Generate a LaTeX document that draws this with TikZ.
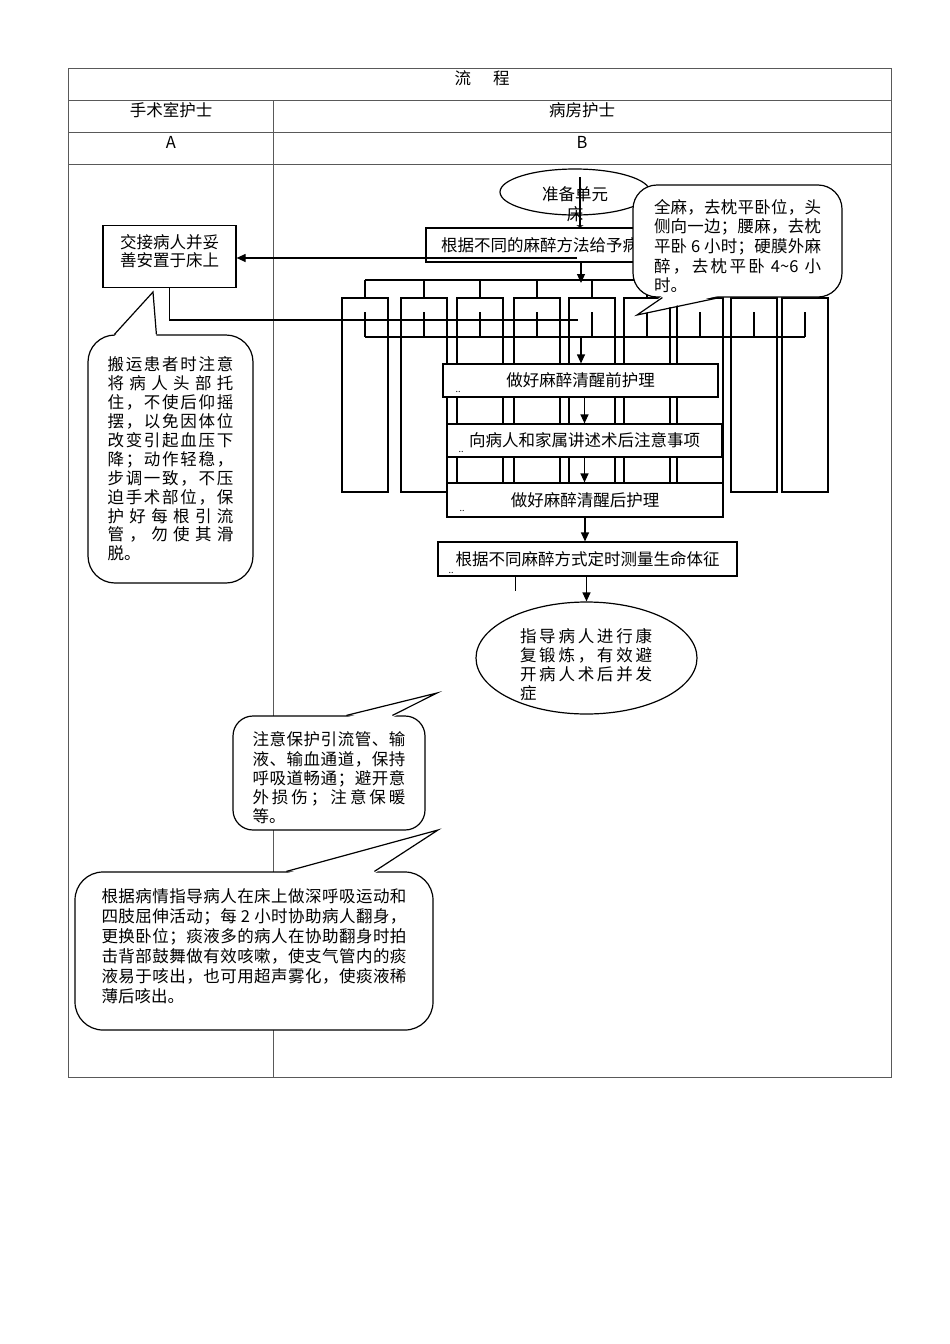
\documentclass[tikz,border=0pt]{standalone}
\usepackage{fontspec}
\setmainfont{Noto Sans CJK SC}
\usepackage{tikz}
\usetikzlibrary{arrows.meta,shapes.geometric}

\newcommand{\spr}[2]{\makebox[#1][s]{\sprA#2\relax}}
\def\sprA#1{#1\sprB}
\def\sprB#1{\ifx\relax#1\else\hfil#1\expandafter\sprB\fi}

\begin{document}
\begin{tikzpicture}[x=1pt, y=-1pt,
  every node/.style={font=\fontsize{16.5}{19.5}\selectfont, inner sep=0pt},
  tbl/.style={draw=black!65, line width=1pt},
  lnk/.style={line width=1.2pt},
  flow/.style={line width=1.2pt, -{Triangle[length=9pt,width=8pt]}},
  box/.style={draw, line width=1.2pt, fill=white},
  bubble/.style={draw, line width=1.2pt, fill=white, rounded corners=#1},
  dots/.style={font=\fontsize{9}{9}\selectfont}]

\useasboundingbox (0,0) rectangle (950,1344);

% table
\draw[tbl] (68,68) rectangle (891,1077);
\foreach \y in {100,132,164} \draw[tbl] (68,\y) -- (891,\y);
\draw[tbl] (273,100) -- (273,1077);
\node (hd) at (482,78) {流\hspace{22pt}程};
\node (ha) at (171,110) {手术室护士};
\node (hb) at (582,110) {病房护士};
\node (la) at (171,142) {A};
\node (lb) at (582,142) {B};

% org chart remains
\foreach \x in {365,424,480,537,592,647,700,754,805} {
  \draw[lnk] (\x-23,298) rectangle (\x+23,492);
  \draw[lnk] (\x,280) -- (\x,298);
  \draw[lnk] (\x,312) -- (\x,337);
}
\draw[lnk] (365,280) -- (805,280);
\draw[lnk] (365,337) -- (805,337);

% column B
\node (ell1) at (575,192) [draw, ellipse, line width=1.2pt, minimum width=150pt, minimum height=46pt] {};
\node (ell1t) at (575,204) [align=center] {准备单元\\床};
\node (rb) at (581,245) [box, minimum width=310pt, minimum height=34pt, text width=280pt, align=left] {根据不同的麻醉方法给予病};
\node (rbd) at (443,259) [dots] {..};
\coordinate (e1) at (580,177);
\draw[lnk, -{Latex[length=2pt,width=8pt]}] (e1) -- (e1 |- rb.north);
\coordinate (bt) at (581,283);
\draw[flow] (rb.south) -- (bt);

% column A
\node (lbox) at (169.5,256.5) [box, minimum width=133pt, minimum height=62pt] {};
\node (lboxt) at ([yshift=5pt]lbox.center) [align=center, font=\fontsize{16.5}{18}\selectfont] {交接病人并妥\\善安置于床上};
\coordinate (j1) at (577,258);
\draw[flow] (j1) -- (j1 -| lbox.east);
\coordinate (j2) at (578,320);
\draw[lnk] (lbox.south) |- (j2);

\node (bx1) at (580.5,380.5) [box, minimum width=275pt, minimum height=33pt] {做好麻醉清醒前护理};
\node (bx1d) at (458,392) [dots] {..};
\node (bx2) at (584.5,440.5) [box, minimum width=275pt, minimum height=33pt] {向病人和家属讲述术后注意事项};
\node (bx2d) at (461,452) [dots] {..};
\node (bx3) at (585,500) [box, minimum width=276pt, minimum height=34pt] {做好麻醉清醒后护理};
\node (bx3d) at (462,511) [dots] {..};
\node (bx4) at (587.5,559) [box, minimum width=299pt, minimum height=34pt] {根据不同麻醉方式定时测量生命体征};
\node (bx4d) at (451,573) [dots] {..};
\node (ell2) at (586.5,658) [draw, ellipse, line width=1.2pt, minimum width=221pt, minimum height=112pt] {};
\node (ell2t) at (586,665) [align=left, font=\fontsize{16.5}{19}\selectfont] {\spr{132pt}{指导病人进行康}\\\spr{132pt}{复锻炼，有效避}\\\spr{132pt}{开病人术后并发}\\症};

\coordinate (bb) at (581,337);
\draw[flow] (bb) -- (bb |- bx1.north);
\draw[flow] (bx1.south -| bx2.north) -- (bx2.north);
\draw[flow] (bx2.south) -- (bx2.south |- bx3.north);
\draw[flow] (bx3.south) -- (bx3.south |- bx4.north);
\draw[flow] (bx4.south -| ell2.north) -- (ell2.north);
\draw[lnk] ([xshift=-72pt]bx4.south) -- ++(0,14);

% callouts
\node (c1) at (737.5,241) [bubble=24pt, minimum width=209pt, minimum height=112pt] {};
\node (c1t) at ([yshift=-5pt]c1.center) [align=left, font=\fontsize{16.5}{19.7}\selectfont]
  {\spr{167pt}{全麻，去枕平卧位，头}\\\spr{167pt}{侧向一边；腰麻，去枕}\\\spr{167pt}{平卧{~6~}小时；硬膜外麻}\\\spr{167pt}{醉，去枕平卧{~4\string~6~}小}\\时。};
\coordinate (c1p) at (637,315);
\fill[white] ([xshift=30pt,yshift=2pt]c1.south west) -- (c1p) -- ([xshift=87pt,yshift=2pt]c1.south west) -- cycle;
\draw[lnk] ([xshift=30pt]c1.south west) -- (c1p) -- ([xshift=87pt]c1.south west);

\node (c0) at (170.5,459) [bubble=27pt, minimum width=165pt, minimum height=248pt, align=left, font=\fontsize{16.5}{18.9}\selectfont]
  {\spr{126pt}{搬运患者时注意}\\\spr{126pt}{将病人头部托}\\\spr{126pt}{住，不使后仰摇}\\\spr{126pt}{摆，以免因体位}\\\spr{126pt}{改变引起血压下}\\\spr{126pt}{降；动作轻稳，}\\\spr{126pt}{步调一致，不压}\\\spr{126pt}{迫手术部位，保}\\\spr{126pt}{护好每根引流}\\\spr{126pt}{管，勿使其滑}\\脱。};
\coordinate (c0p) at (153,292);
\fill[white] ([xshift=27pt,yshift=-2pt]c0.north west) -- (c0p) -- ([xshift=69pt,yshift=-2pt]c0.north west) -- cycle;
\draw[lnk] ([xshift=27pt]c0.north west) -- (c0p) -- ([xshift=69pt]c0.north west);

\node (c2) at (329,773) [bubble=20pt, minimum width=192pt, minimum height=114pt] {};
\node (c2t) at ([yshift=-5pt]c2.center) [align=left, font=\fontsize{16.5}{19.3}\selectfont]
  {\spr{153pt}{注意保护引流管、输}\\\spr{153pt}{液、输血通道，保持}\\\spr{153pt}{呼吸道畅通；避开意}\\\spr{153pt}{外损伤；注意保暖}\\等。};
\coordinate (c2p) at (437,693);
\fill[white] ([xshift=114pt,yshift=-2pt]c2.north west) -- (c2p) -- ([xshift=160pt,yshift=-2pt]c2.north west) -- cycle;
\draw[lnk] ([xshift=114pt]c2.north west) -- (c2p) -- ([xshift=160pt]c2.north west);

\node (c3) at (254,951) [bubble=28pt, minimum width=358pt, minimum height=158pt] {};
\node (c3t) at ([yshift=5pt]c3.center) [align=left, font=\fontsize{16.5}{20}\selectfont]
  {\spr{305pt}{根据病情指导病人在床上做深呼吸运动和}\\\spr{305pt}{四肢屈伸活动；每{~2~}小时协助病人翻身，}\\\spr{305pt}{更换卧位；痰液多的病人在协助翻身时拍}\\\spr{305pt}{击背部鼓舞做有效咳嗽，使支气管内的痰}\\\spr{305pt}{液易于咳出，也可用超声雾化，使痰液稀}\\薄后咳出。};
\coordinate (c3p) at (438,830);
\fill[white] ([xshift=212pt,yshift=-2pt]c3.north west) -- (c3p) -- ([xshift=300pt,yshift=-2pt]c3.north west) -- cycle;
\draw[lnk] ([xshift=212pt]c3.north west) -- (c3p) -- ([xshift=300pt]c3.north west);
\end{tikzpicture}
\end{document}
